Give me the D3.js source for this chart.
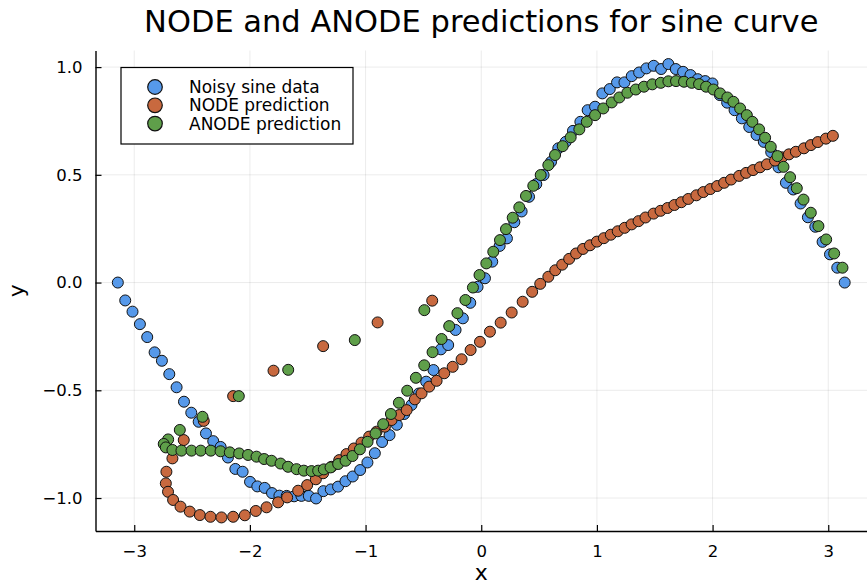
<!DOCTYPE html>
<html>
<head>
<meta charset="utf-8">
<script src="https://cdn.jsdelivr.net/npm/d3@7"></script>
<style>
  html, body { margin: 0; padding: 0; background: #fff; }
  svg { display: block; }
  text { font-family: "DejaVu Sans", sans-serif; fill: #000; }
</style>
</head>
<body>
<svg id="chart" width="867" height="585"></svg>
<script>
const titleText = "NODE and ANODE predictions for sine curve";
const xLabel = "x";
const yLabel = "y";
const seriesNames = ["Noisy sine data", "NODE prediction", "ANODE prediction"];
const seriesColors = ["#5699ea", "#c8693f", "#5f9f4a"];

const xTicks = [-3, -2, -1, 0, 1, 2, 3];
const xTickLabels = ["\u22123", "\u22122", "\u22121", "0", "1", "2", "3"];
const yTicks = [-1, -0.5, 0, 0.5, 1];
const yTickLabels = ["\u22121.0", "\u22120.5", "0.0", "0.5", "1.0"];

// Noisy sine data
const noisyX = [-3.142,-3.078,-3.015,-2.951,-2.888,-2.824,-2.761,-2.697,-2.634,-2.570,
  -2.507,-2.443,-2.380,-2.317,-2.253,-2.190,-2.126,-2.063,-1.999,-1.936,
  -1.872,-1.809,-1.745,-1.682,-1.618,-1.555,-1.491,-1.428,-1.365,-1.301,
  -1.238,-1.174,-1.111,-1.047,-0.984,-0.920,-0.857,-0.793,-0.730,-0.666,
  -0.603,-0.539,-0.476,-0.413,-0.349,-0.286,-0.222,-0.159,-0.095,-0.032,
  0.032,0.095,0.159,0.222,0.286,0.349,0.413,0.476,0.539,0.603,
  0.666,0.730,0.793,0.857,0.920,0.984,1.047,1.111,1.174,1.238,
  1.301,1.365,1.428,1.491,1.555,1.618,1.682,1.745,1.809,1.872,
  1.936,1.999,2.063,2.126,2.190,2.253,2.317,2.380,2.443,2.507,
  2.570,2.634,2.697,2.761,2.824,2.888,2.951,3.015,3.078,3.142];
const noisyY = [0.000,-0.083,-0.135,-0.193,-0.253,-0.324,-0.363,-0.425,-0.486,-0.553,
  -0.604,-0.646,-0.700,-0.736,-0.763,-0.812,-0.865,-0.878,-0.925,-0.946,
  -0.953,-0.977,-0.989,-0.990,-0.992,-0.990,-0.990,-1.002,-0.968,-0.960,
  -0.947,-0.922,-0.900,-0.870,-0.835,-0.792,-0.740,-0.708,-0.660,-0.610,
  -0.568,-0.515,-0.460,-0.406,-0.310,-0.290,-0.220,-0.166,-0.094,-0.020,
  0.020,0.097,0.170,0.205,0.280,0.330,0.398,0.457,0.499,0.560,
  0.623,0.653,0.704,0.746,0.800,0.816,0.878,0.898,0.929,0.929,
  0.958,0.975,0.994,1.006,0.991,1.014,0.991,0.978,0.963,0.944,
  0.935,0.924,0.870,0.835,0.800,0.762,0.722,0.685,0.653,0.605,
  0.535,0.463,0.432,0.367,0.303,0.259,0.189,0.131,0.069,0.000];

// NODE prediction
const nodeX = [-2.572,-2.399,-2.145,-1.796,-1.367,-0.896,-0.424,
  -2.670,-2.722,-2.727,-2.708,-2.664,-2.600,-2.520,-2.433,-2.341,-2.246,-2.145,-2.044,-1.949,-1.856,-1.756,-1.678,
  -1.583,-1.505,-1.430,-1.367,-1.294,-1.228,-1.165,-1.101,-1.035,-0.969,-0.905,-0.833,-0.775,-0.709,
  -0.645,-0.574,-0.516,-0.450,-0.386,-0.320,-0.247,-0.170,-0.092,-0.011,0.075,0.168,0.263,0.358,
  0.44,0.51,0.58,0.64,0.70,0.76,0.82,0.88,0.94,1.00,1.06,1.12,1.18,1.24,1.30,1.36,1.42,1.49,1.55,1.61,
  1.67,1.73,1.79,1.86,1.92,1.98,2.04,2.10,2.16,2.23,2.29,2.35,2.41,2.47,2.54,2.60,2.66,2.72,2.79,2.85,
  2.91,2.98,3.04];
const nodeY = [-0.731,-0.642,-0.527,-0.409,-0.295,-0.185,-0.084,
  -0.816,-0.878,-0.932,-0.971,-1.009,-1.040,-1.063,-1.079,-1.087,-1.090,-1.087,-1.080,-1.060,-1.043,-1.020,-0.997,
  -0.966,-0.940,-0.913,-0.885,-0.855,-0.824,-0.796,-0.770,-0.743,-0.715,-0.692,-0.669,-0.638,-0.615,
  -0.592,-0.542,-0.514,-0.483,-0.456,-0.421,-0.391,-0.356,-0.313,-0.275,-0.228,-0.186,-0.139,-0.089,
  -0.043,-0.006,0.027,0.057,0.083,0.110,0.135,0.156,0.173,0.190,0.206,0.222,0.238,0.254,0.270,0.285,0.302,0.320,0.333,0.346,
  0.360,0.373,0.388,0.405,0.420,0.434,0.448,0.463,0.478,0.495,0.509,0.522,0.535,0.549,0.566,0.581,0.595,0.607,0.623,0.638,
  0.652,0.668,0.681];

// ANODE prediction
const anodeX = [-2.707,-2.745,-2.727,-2.606,-2.410,-2.096,-1.669,-1.093,-0.492,
  -2.670,-2.592,-2.505,-2.425,-2.338,-2.254,-2.174,-2.093,-2.016,-1.943,-1.877,-1.813,-1.735,-1.670,
  -1.597,-1.534,-1.467,-1.410,-1.361,-1.303,-1.237,-1.173,-1.113,-1.049,-0.983,-0.914,-0.848,-0.781,
  -0.712,-0.640,-0.565,-0.493,-0.421,-0.343,-0.277,-0.206,-0.137,-0.072,-0.015,0.044,0.104,0.162,
  0.214,0.272,0.329,0.387,0.450,0.514,0.580,0.638,0.704,0.773,0.848,0.912,0.984,1.055,1.128,1.194,
  1.263,1.336,1.407,1.479,1.552,1.618,1.684,1.753,1.820,1.883,1.944,2.007,2.065,2.128,2.180,2.238,
  2.296,2.344,2.402,2.454,2.503,2.561,2.613,2.670,2.728,2.786,2.849,2.915,2.982,3.051,3.123];
const anodeY = [-0.728,-0.749,-0.765,-0.684,-0.623,-0.527,-0.405,-0.267,-0.128,
  -0.777,-0.780,-0.780,-0.780,-0.780,-0.783,-0.788,-0.793,-0.800,-0.808,-0.819,-0.827,-0.840,-0.855,
  -0.866,-0.873,-0.875,-0.873,-0.867,-0.858,-0.842,-0.827,-0.805,-0.774,-0.739,-0.700,-0.657,-0.610,
  -0.558,-0.502,-0.442,-0.384,-0.323,-0.262,-0.202,-0.142,-0.081,-0.023,0.035,0.089,0.143,0.197,
  0.248,0.301,0.349,0.402,0.449,0.499,0.545,0.592,0.633,0.674,0.711,0.746,0.777,0.808,0.836,0.859,
  0.881,0.896,0.909,0.920,0.927,0.934,0.935,0.932,0.927,0.921,0.909,0.896,0.878,0.859,0.839,0.808,
  0.777,0.746,0.711,0.672,0.630,0.587,0.537,0.489,0.438,0.385,0.324,0.262,0.200,0.135,0.069];

const seriesX = [noisyX, nodeX, anodeX];
const seriesY = [noisyY, nodeY, anodeY];

const svg = d3.select("#chart");
const W = 867, H = 585;
const plotLeft = 95.5, plotRight = 867, plotTop = 50.5, plotBottom = 531;

const x = d3.scaleLinear().domain([-3.335, 3.335]).range([plotLeft, plotRight]);
const y = d3.scaleLinear().domain([-1.153, 1.077]).range([plotBottom, plotTop]);

svg.append("rect").attr("width", W).attr("height", H).attr("fill", "#fff");

// grid
const grid = svg.append("g");
grid.selectAll("line.gx").data(xTicks).join("line")
  .attr("x1", d => x(d)).attr("x2", d => x(d))
  .attr("y1", plotTop).attr("y2", plotBottom)
  .attr("stroke", "#000").attr("stroke-opacity", 0.1).attr("stroke-width", 0.8);
grid.selectAll("line.gy").data(yTicks).join("line")
  .attr("y1", d => y(d)).attr("y2", d => y(d))
  .attr("x1", plotLeft).attr("x2", plotRight)
  .attr("stroke", "#000").attr("stroke-opacity", 0.1).attr("stroke-width", 0.8);

// axes via d3 axis generators
const xAxis = d3.axisBottom(x).tickValues(xTicks).tickSizeInner(-6).tickSizeOuter(0)
  .tickFormat((d, i) => xTickLabels[i]).tickPadding(14);
const gx = svg.append("g").attr("transform", `translate(0,${plotBottom})`).call(xAxis);
gx.select(".domain").attr("stroke", "#000").attr("stroke-width", 1.4);
gx.selectAll(".tick line").attr("stroke", "#000").attr("stroke-width", 1.2);
gx.selectAll(".tick text").attr("font-family", "DejaVu Sans").attr("font-size", 16.5).attr("fill", "#000");

const yAxis = d3.axisLeft(y).tickValues(yTicks).tickSizeInner(-6).tickSizeOuter(0)
  .tickFormat((d, i) => yTickLabels[i]).tickPadding(13);
const gy = svg.append("g").attr("transform", `translate(${plotLeft},0)`).call(yAxis);
gy.select(".domain").attr("stroke", "#000").attr("stroke-width", 1.4);
gy.selectAll(".tick line").attr("stroke", "#000").attr("stroke-width", 1.2);
gy.selectAll(".tick text").attr("font-family", "DejaVu Sans").attr("font-size", 16.5).attr("fill", "#000");

// points
const plotG = svg.append("g");
seriesX.forEach((xs, s) => {
  const pts = xs.map((v, i) => [v, seriesY[s][i]]);
  plotG.append("g").selectAll("circle").data(pts).join("circle")
    .attr("cx", d => x(d[0])).attr("cy", d => y(d[1]))
    .attr("r", 5.5)
    .attr("fill", seriesColors[s])
    .attr("stroke", "#111").attr("stroke-width", 1);
});

// title and labels
svg.append("text").attr("x", (plotLeft + plotRight) / 2).attr("y", 32)
  .attr("text-anchor", "middle").attr("font-size", 30.5).text(titleText);
svg.append("text").attr("x", x(0)).attr("y", 580)
  .attr("text-anchor", "middle").attr("font-size", 22).text(xLabel);
svg.append("text").attr("transform", `translate(24,${(plotTop + plotBottom) / 2}) rotate(-90)`)
  .attr("text-anchor", "middle").attr("font-size", 22).text(yLabel);

// legend
const leg = svg.append("g");
leg.append("rect").attr("x", 121).attr("y", 67.5).attr("width", 232).attr("height", 76.5)
  .attr("fill", "#fff").attr("stroke", "#000").attr("stroke-width", 1.2);
seriesNames.forEach((name, i) => {
  const cy = 87 + i * 18.3;
  leg.append("circle").attr("cx", 155).attr("cy", cy).attr("r", 7.3)
    .attr("fill", seriesColors[i]).attr("stroke", "#111").attr("stroke-width", 1.2);
  leg.append("text").attr("x", 189).attr("y", cy + 6).attr("font-size", 17).text(name);
});
</script>
</body>
</html>
